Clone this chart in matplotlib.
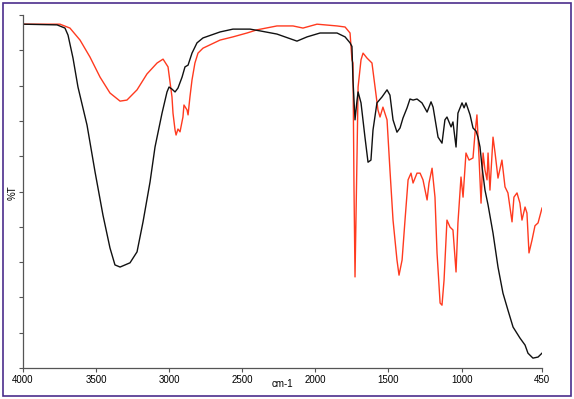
import matplotlib
matplotlib.use("Agg")
import matplotlib.pyplot as plt
from matplotlib.patches import Rectangle

plt.rcParams['font.family'] = ['Liberation Sans', 'DejaVu Sans']

# Black spectrum (wavenumber cm-1, %T)
black_wn = [4000, 3767, 3713, 3692, 3658, 3624, 3562, 3507, 3453, 3405, 3371, 3336, 3268, 3220,
            3179, 3131, 3097, 3049, 3015, 3001, 2981, 2960, 2940, 2912, 2892, 2871, 2844, 2810,
            2769, 2652, 2564, 2447, 2379, 2263, 2126, 2057, 1968, 1852, 1797, 1763, 1750, 1743,
            1729, 1715, 1708, 1688, 1661, 1640, 1620, 1606, 1579, 1544, 1510, 1490, 1469, 1442,
            1421, 1401, 1373, 1353, 1332, 1305, 1271, 1236, 1209, 1195, 1161, 1134, 1114, 1100,
            1072, 1059, 1038, 1025, 997, 983, 970, 942, 922, 901, 888, 874, 860, 840, 819, 785,
            751, 717, 683, 648, 601, 566, 546, 512, 477, 450]
black_t = [97.4, 97.2, 96.3, 94.3, 87.8, 79.6, 68.8, 55.5, 43.3, 34.0, 29.2, 28.6, 29.8, 32.9,
           41.4, 52.7, 62.6, 72.2, 78.2, 79.6, 79.0, 78.2, 79.3, 82.4, 85.3, 85.8, 89.2, 92.1,
           93.5, 95.2, 96.0, 96.0, 95.5, 94.6, 92.6, 93.8, 94.9, 94.9, 93.8, 92.1, 91.1, 81.6,
           70.3, 75.9, 78.2, 75.1, 65.4, 58.3, 58.9, 67.4, 75.1, 76.8, 78.8, 77.3, 70.3, 66.8,
           68.0, 70.8, 73.7, 76.2, 75.9, 76.2, 75.1, 72.5, 75.4, 73.9, 65.4, 63.7, 70.3, 71.1,
           68.3, 69.7, 62.6, 72.2, 75.1, 73.7, 75.1, 71.7, 68.0, 67.1, 65.4, 62.6, 56.9, 50.4,
           46.2, 38.2, 28.6, 21.2, 16.4, 11.6, 8.5, 6.5, 4.2, 2.8, 3.1, 4.2]

# Red spectrum (wavenumber cm-1, %T)
red_wn = [4000, 3747, 3679, 3610, 3542, 3473, 3405, 3336, 3289, 3220, 3152, 3083, 3042, 3008,
          2981, 2974, 2960, 2953, 2940, 2926, 2906, 2899, 2878, 2871, 2858, 2844, 2824, 2803,
          2769, 2652, 2564, 2468, 2399, 2263, 2153, 2085, 1989, 1852, 1797, 1763, 1750, 1743,
          1736, 1729, 1715, 1708, 1688, 1674, 1647, 1613, 1592, 1572, 1558, 1538, 1510, 1490,
          1469, 1442, 1428, 1407, 1387, 1366, 1346, 1332, 1305, 1284, 1264, 1236, 1223, 1202,
          1182, 1168, 1147, 1134, 1120, 1100, 1079, 1059, 1038, 1025, 1004, 990, 970, 949, 922,
          908, 895, 881, 867, 853, 840, 826, 819, 806, 785, 771, 751, 724, 703, 683, 655, 642,
          621, 601, 587, 566, 553, 539, 518, 498, 477, 450]
red_t = [97.4, 97.4, 96.3, 92.9, 88.1, 82.4, 77.9, 75.6, 75.9, 78.8, 83.3, 86.4, 87.5, 85.3,
         76.8, 72.2, 67.4, 66.0, 67.7, 66.9, 71.1, 74.5, 73.1, 71.7, 76.8, 81.6, 86.4, 89.2,
         90.6, 92.9, 93.8, 94.9, 95.8, 96.9, 96.9, 96.3, 97.4, 96.9, 96.6, 94.9, 87.3, 86.4,
         51.3, 25.8, 60.9, 79.6, 87.3, 89.2, 87.8, 86.4, 79.6, 73.1, 71.1, 73.9, 70.3, 56.1,
         41.9, 30.6, 26.3, 30.6, 41.9, 53.3, 55.2, 52.4, 55.2, 55.2, 53.3, 47.6, 52.4, 56.6,
         48.4, 32.6, 18.4, 17.8, 24.9, 41.9, 39.9, 39.1, 27.2, 41.1, 54.1, 48.4, 60.9, 58.9,
         59.5, 66.6, 71.7, 59.8, 46.7, 60.9, 56.1, 53.3, 60.9, 50.4, 65.4, 60.9, 53.8, 58.9,
         51.3, 49.6, 41.4, 48.4, 49.6, 46.7, 41.9, 45.6, 43.9, 32.6, 36.3, 40.3, 41.1, 45.3]

x_ticks = [4000, 3500, 3000, 2500, 2000, 1500, 1000, 450]
x_tick_labels = ["4000", "3500", "3000", "2500", "2000", "1500", "1000", "450"]

fig = plt.figure(figsize=(5.74, 3.99), dpi=100)
ax = fig.add_axes([23/574, 1-368/399, (542-23)/574, (368-15)/399])

ax.plot(red_wn, red_t, color='#ff3a1f', lw=1.0)
ax.plot(black_wn, black_t, color='#111111', lw=1.0)

ax.set_xlim(4000, 450)
ax.set_ylim(0, 100)
ax.set_xticks(x_ticks)
ax.set_xticklabels(x_tick_labels, fontsize=7)
ax.set_yticks(range(0, 101, 10))
ax.set_yticklabels([])
ax.tick_params(axis='both', direction='out', length=3, width=0.8, color='#555555', pad=2)
for s in ['top', 'right']:
    ax.spines[s].set_visible(False)
for s in ['left', 'bottom']:
    ax.spines[s].set_color('#555555')
    ax.spines[s].set_linewidth(0.9)

ax.set_ylabel('%T', fontsize=7)
ax.yaxis.set_label_coords(-0.0096, 0.496)
ax.set_xlabel('cm-1', fontsize=7)
ax.xaxis.set_label_coords(0.5, -0.031)

fig.patches.append(Rectangle((3/574, 3/399), 568/574, 393/399, transform=fig.transFigure,
                             fill=False, edgecolor='#4b2d8c', lw=1.2))

fig.savefig('out.png', dpi=100)
